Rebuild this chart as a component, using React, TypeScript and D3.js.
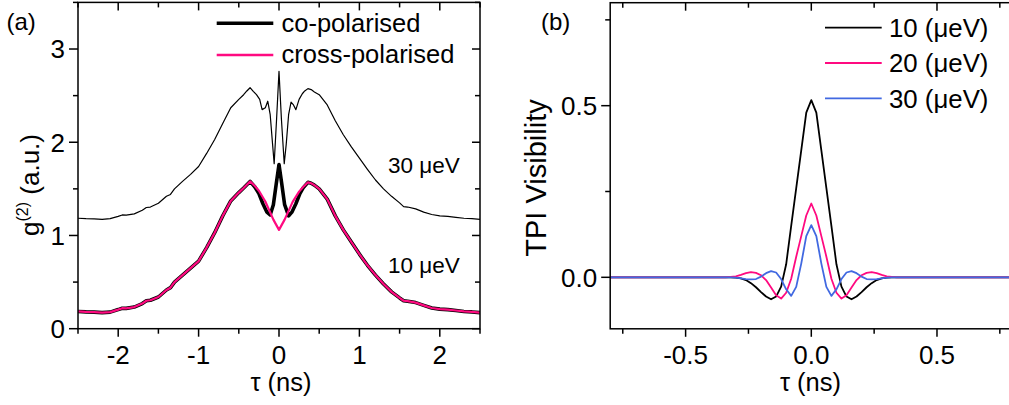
import React from "react";
import * as d3 from "d3";

// ---------- Panel (a) data: g2 correlation ----------
const tau30 = [-2.5,-2.4,-2.3,-2.2,-2.1,-2.0,-1.95,-1.9,-1.8,-1.7,-1.65,-1.6,-1.5,-1.4,-1.35,-1.3,-1.2,-1.1,-1.0,-0.9,-0.8,-0.7,-0.6,-0.5,-0.44,-0.4,-0.36,-0.32,-0.28,-0.24,-0.21,-0.17,-0.14,-0.11,-0.08,-0.06,-0.03,0,0.03,0.065,0.09,0.12,0.15,0.18,0.21,0.25,0.29,0.32,0.36,0.4,0.44,0.5,0.6,0.7,0.8,0.9,1.0,1.1,1.2,1.3,1.4,1.5,1.55,1.6,1.7,1.8,1.9,2.0,2.1,2.2,2.3,2.4,2.5];
const g30 = [1.185,1.18,1.178,1.172,1.18,1.205,1.22,1.218,1.232,1.27,1.30,1.305,1.345,1.42,1.44,1.50,1.58,1.655,1.74,1.88,2.03,2.20,2.37,2.46,2.51,2.55,2.585,2.545,2.51,2.46,2.35,2.37,2.44,2.30,1.98,1.77,2.25,2.76,2.25,1.77,1.98,2.30,2.43,2.40,2.35,2.46,2.52,2.55,2.575,2.565,2.54,2.51,2.40,2.23,2.08,1.95,1.83,1.71,1.595,1.50,1.42,1.35,1.31,1.305,1.285,1.25,1.225,1.21,1.205,1.195,1.185,1.18,1.172];

const tauCross = [-2.5,-2.4,-2.3,-2.2,-2.1,-2.0,-1.95,-1.9,-1.8,-1.7,-1.65,-1.6,-1.5,-1.4,-1.35,-1.3,-1.2,-1.1,-1.0,-0.9,-0.8,-0.7,-0.6,-0.5,-0.44,-0.4,-0.36,-0.3,-0.25,-0.17,-0.07,0,0.07,0.17,0.25,0.3,0.36,0.4,0.44,0.5,0.6,0.7,0.8,0.9,1.0,1.1,1.2,1.3,1.4,1.5,1.55,1.6,1.7,1.8,1.9,2.0,2.1,2.2,2.3,2.4,2.5];
const gCross = [0.185,0.18,0.178,0.172,0.178,0.205,0.22,0.218,0.232,0.27,0.30,0.305,0.34,0.415,0.44,0.50,0.575,0.65,0.725,0.87,1.03,1.21,1.37,1.46,1.51,1.545,1.58,1.53,1.48,1.365,1.17,1.06,1.17,1.36,1.47,1.52,1.57,1.56,1.54,1.50,1.39,1.21,1.06,0.93,0.80,0.68,0.575,0.48,0.395,0.33,0.30,0.295,0.28,0.25,0.222,0.21,0.205,0.195,0.185,0.18,0.172];

const tauCo = [-2.5,-2.4,-2.3,-2.2,-2.1,-2.0,-1.95,-1.9,-1.8,-1.7,-1.65,-1.6,-1.5,-1.4,-1.35,-1.3,-1.2,-1.1,-1.0,-0.9,-0.8,-0.7,-0.6,-0.5,-0.44,-0.4,-0.36,-0.3,-0.25,-0.2,-0.15,-0.11,-0.07,-0.035,0,0.035,0.07,0.12,0.16,0.21,0.26,0.3,0.36,0.4,0.44,0.5,0.6,0.7,0.8,0.9,1.0,1.1,1.2,1.3,1.4,1.5,1.55,1.6,1.7,1.8,1.9,2.0,2.1,2.2,2.3,2.4,2.5];
const gCo = [0.185,0.18,0.178,0.172,0.178,0.205,0.22,0.218,0.232,0.27,0.30,0.305,0.34,0.415,0.44,0.50,0.575,0.65,0.725,0.87,1.03,1.21,1.37,1.46,1.51,1.545,1.58,1.52,1.45,1.34,1.25,1.22,1.33,1.55,1.76,1.55,1.33,1.21,1.25,1.34,1.45,1.51,1.57,1.56,1.54,1.50,1.39,1.21,1.06,0.93,0.80,0.68,0.575,0.48,0.395,0.33,0.30,0.295,0.28,0.25,0.222,0.21,0.205,0.195,0.185,0.18,0.172];

const aXMajor = [-2, -1, 0, 1, 2];
const aXMinor = [-2.5, -1.5, -0.5, 0.5, 1.5, 2.5];
const aYMajor = [0, 1, 2, 3];
const aYMinor = [0.5, 1.5, 2.5, 3.5];
const aLegend = ["co-polarised", "cross-polarised"];
const aNotes = ["30 \u03bceV", "10 \u03bceV"];

// ---------- Panel (b) data: TPI visibility ----------
const tauV = [-0.8,-0.34,-0.32,-0.30,-0.28,-0.26,-0.24,-0.22,-0.20,-0.18,-0.16,-0.14,-0.12,-0.10,-0.08,-0.06,-0.04,-0.02,0,0.02,0.04,0.06,0.08,0.10,0.12,0.14,0.16,0.18,0.20,0.22,0.24,0.26,0.28,0.30,0.32,0.34,0.8];
const v10 = [0,0,0,-0.001,-0.003,-0.008,-0.017,-0.029,-0.043,-0.056,-0.064,-0.056,-0.027,0.038,0.15,0.26,0.37,0.48,0.516,0.48,0.37,0.26,0.15,0.038,-0.027,-0.056,-0.064,-0.056,-0.043,-0.029,-0.017,-0.008,-0.003,-0.001,0,0,0];
const v20 = [0,0,0.001,0.003,0.007,0.012,0.015,0.013,0.006,-0.008,-0.03,-0.052,-0.062,-0.045,-0.004,0.06,0.12,0.18,0.215,0.18,0.12,0.06,-0.004,-0.045,-0.062,-0.052,-0.03,-0.008,0.006,0.013,0.015,0.012,0.007,0.003,0.001,0,0];
const v30 = [0,0,0,-0.001,-0.003,-0.005,-0.006,-0.005,0.002,0.012,0.018,0.014,-0.005,-0.035,-0.054,-0.028,0.04,0.12,0.152,0.12,0.04,-0.028,-0.054,-0.035,-0.005,0.014,0.018,0.012,0.002,-0.005,-0.006,-0.005,-0.003,-0.001,0,0,0];

const bXMajor = [-0.5, 0, 0.5];
const bXMinor = [-0.75, -0.25, 0.25, 0.75];
const bYMajor = [0, 0.5];
const bYMinor = [0.25, 0.75];
const bLegend = ["10 (\u03bceV)", "20 (\u03bceV)", "30 (\u03bceV)"];

const BLACK = "#000000";
const PINK = "#ff0a80";
const BLUE = "#4169e1";
const FONT = "'Liberation Sans', Arial, Helvetica, sans-serif";

function Frame({ x, y, xMajor, xMinor, yMajor, yMinor, fmtX, fmtY, tickFs, rightTicks }) {
  const [x0, x1] = x.range();
  const [y0, y1] = y.range(); // y0 bottom, y1 top
  const sw = 1.5;
  const els = [];
  xMajor.forEach((t, i) => {
    const px = x(t);
    els.push(<line key={"xb" + i} x1={px} x2={px} y1={y0} y2={y0 + 8} stroke="#000" strokeWidth={sw} />);
    els.push(<line key={"xt" + i} x1={px} x2={px} y1={y1} y2={y1 + 8} stroke="#000" strokeWidth={sw} />);
    els.push(
      <text key={"xl" + i} x={px} y={y0 + 35} textAnchor="middle" fontSize={tickFs} fontFamily={FONT}>
        {fmtX(t)}
      </text>
    );
  });
  xMinor.forEach((t, i) => {
    const px = x(t);
    els.push(<line key={"xbm" + i} x1={px} x2={px} y1={y0} y2={y0 + 5} stroke="#000" strokeWidth={sw} />);
    els.push(<line key={"xtm" + i} x1={px} x2={px} y1={y1} y2={y1 + 5} stroke="#000" strokeWidth={sw} />);
  });
  yMajor.forEach((t, i) => {
    const py = y(t);
    els.push(<line key={"yl" + i} x1={x0 - 9} x2={x0} y1={py} y2={py} stroke="#000" strokeWidth={sw} />);
    if (rightTicks)
      els.push(<line key={"yr" + i} x1={x1 - 8} x2={x1} y1={py} y2={py} stroke="#000" strokeWidth={sw} />);
    els.push(
      <text key={"ylab" + i} x={x0 - 13} y={py} dy="0.36em" textAnchor="end" fontSize={tickFs} fontFamily={FONT}>
        {fmtY(t)}
      </text>
    );
  });
  yMinor.forEach((t, i) => {
    const py = y(t);
    els.push(<line key={"ylm" + i} x1={x0 - 5} x2={x0} y1={py} y2={py} stroke="#000" strokeWidth={sw} />);
    if (rightTicks)
      els.push(<line key={"yrm" + i} x1={x1 - 5} x2={x1} y1={py} y2={py} stroke="#000" strokeWidth={sw} />);
  });
  els.push(
    <rect key="frame" x={x0} y={y1} width={x1 - x0} height={y0 - y1} fill="none" stroke="#000" strokeWidth={sw} />
  );
  return <g>{els}</g>;
}

export default function App() {
  const W = 1009;
  const H = 405;

  // Panel (a)
  const xa = d3.scaleLinear().domain([-2.5, 2.5]).range([78, 480]);
  const ya = d3.scaleLinear().domain([0, 3.5]).range([328.7, 2.4]);
  const lineA = (ts, vs) =>
    d3.line().x((d) => xa(d[0])).y((d) => ya(d[1]))(ts.map((t, i) => [t, vs[i]]));

  // Panel (b)
  const xb = d3.scaleLinear().domain([-0.8, 0.8]).range([610.2, 1012.4]);
  const yb = d3.scaleLinear().domain([-0.15, 0.8]).range([328.8, 2.7]);
  const lineB = (ts, vs) =>
    d3.line().x((d) => xb(d[0])).y((d) => yb(d[1]))(ts.map((t, i) => [t, vs[i]]));

  const fmtInt = (v) => d3.format("d")(v).replace("\u2212", "-");
  const fmt1 = (v) => d3.format(".1f")(v).replace("\u2212", "-");

  return (
    <svg
      width={W}
      height={H}
      viewBox={`0 0 ${W} ${H}`}
      style={{ position: "absolute", left: 0, top: 0, background: "#fff" }}
    >
      <rect x={0} y={0} width={W} height={H} fill="#fff" />

      <defs>
        <clipPath id="clipA">
          <rect x={78} y={2.4} width={402} height={326.3} />
        </clipPath>
        <clipPath id="clipB">
          <rect x={610.2} y={2.7} width={402.2} height={326.1} />
        </clipPath>
      </defs>

      {/* ---------- Panel (a) ---------- */}
      <g clipPath="url(#clipA)">
        <path d={lineA(tau30, g30)} fill="none" stroke={BLACK} strokeWidth={1.2} strokeLinejoin="round" />
        <path d={lineA(tauCo, gCo)} fill="none" stroke={BLACK} strokeWidth={3.6} strokeLinejoin="round" />
        <path d={lineA(tauCross, gCross)} fill="none" stroke={PINK} strokeWidth={2.2} strokeLinejoin="round" />
      </g>
      <Frame
        x={xa}
        y={ya}
        xMajor={aXMajor}
        xMinor={aXMinor}
        yMajor={aYMajor}
        yMinor={aYMinor}
        fmtX={fmtInt}
        fmtY={fmtInt}
        tickFs={26}
        rightTicks={true}
      />
      {/* legend (a) */}
      <line x1={216.7} x2={273.3} y1={23.3} y2={23.3} stroke={BLACK} strokeWidth={3.6} />
      <text x={281.5} y={31.5} fontSize={25.5} fontFamily={FONT}>{aLegend[0]}</text>
      <line x1={216.7} x2={273.3} y1={55} y2={55} stroke={PINK} strokeWidth={2.4} />
      <text x={281.5} y={63.3} fontSize={25.5} fontFamily={FONT}>{aLegend[1]}</text>
      {/* annotations */}
      <text x={388} y={173.3} fontSize={22.5} fontFamily={FONT}>{aNotes[0]}</text>
      <text x={388} y={273.3} fontSize={22.5} fontFamily={FONT}>{aNotes[1]}</text>
      {/* axis titles (a) */}
      <text x={281} y={391} textAnchor="middle" fontSize={25.5} fontFamily={FONT}>
        {"\u03c4 (ns)"}
      </text>
      <text
        transform="translate(38.5,185) rotate(-90)"
        textAnchor="middle"
        fontSize={26}
        fontFamily={FONT}
      >
        <tspan>g</tspan>
        <tspan fontSize={16} dy={-11}>(2)</tspan>
        <tspan dy={11}>{" (a.u.)"}</tspan>
      </text>
      <text x={6.5} y={29.5} fontSize={24} fontFamily={FONT}>(a)</text>

      {/* ---------- Panel (b) ---------- */}
      <g clipPath="url(#clipB)">
        <path d={lineB(tauV, v10)} fill="none" stroke={BLACK} strokeWidth={1.8} strokeLinejoin="round" />
        <path d={lineB(tauV, v20)} fill="none" stroke={PINK} strokeWidth={1.8} strokeLinejoin="round" />
        <path d={lineB(tauV, v30)} fill="none" stroke={BLUE} strokeWidth={1.8} strokeLinejoin="round" />
      </g>
      <Frame
        x={xb}
        y={yb}
        xMajor={bXMajor}
        xMinor={bXMinor}
        yMajor={bYMajor}
        yMinor={bYMinor}
        fmtX={fmt1}
        fmtY={fmt1}
        tickFs={26}
        rightTicks={false}
      />
      {/* legend (b) */}
      {[BLACK, PINK, BLUE].map((c, i) => (
        <g key={"lb" + i}>
          <line x1={825} x2={881.7} y1={27.7 + i * 35.3} y2={27.7 + i * 35.3} stroke={c} strokeWidth={1.8} />
          <text x={889} y={37 + i * 35.3} fontSize={25.8} fontFamily={FONT}>{bLegend[i]}</text>
        </g>
      ))}
      {/* axis titles (b) */}
      <text x={810.5} y={391} textAnchor="middle" fontSize={25.5} fontFamily={FONT}>
        {"\u03c4 (ns)"}
      </text>
      <text
        transform="translate(546,178) rotate(-90)"
        textAnchor="middle"
        fontSize={29}
        fontFamily={FONT}
      >
        TPI Visibility
      </text>
      <text x={541} y={29.5} fontSize={24} fontFamily={FONT}>(b)</text>
    </svg>
  );
}
